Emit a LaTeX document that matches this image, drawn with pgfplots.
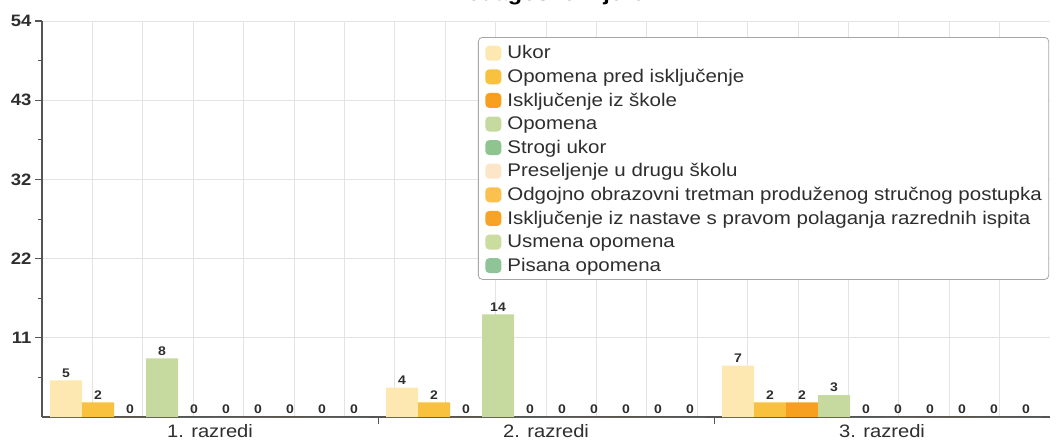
\documentclass[border=0pt]{standalone}
\usepackage{fontspec}
\setmainfont[FakeStretch=1.12]{Liberation Sans}
\usepackage{pgfplots}
\pgfplotsset{compat=1.18}
\definecolor{c1}{HTML}{FDE8B1}
\definecolor{c2}{HTML}{F8C23F}
\definecolor{c3}{HTML}{F7A020}
\definecolor{c4}{HTML}{C6D99E}
\definecolor{c5}{HTML}{8FC390}
\definecolor{c6}{HTML}{FDE5C8}
\definecolor{c7}{HTML}{FBC04E}
\definecolor{c8}{HTML}{F7A426}
\definecolor{c9}{HTML}{CBDC9F}
\definecolor{c10}{HTML}{8EC497}
\definecolor{axisgray}{HTML}{555555}
\definecolor{txt}{HTML}{2E2E2E}
\pgfplotsset{
  mybar/.style={draw=none, fill=#1,
    legend image code/.code={\fill[fill=#1, draw=none] (0pt,-8.5pt) rectangle (16pt,6.5pt); \path (0pt,0pt) -- (22pt,0pt);}},
}
\begin{document}
\begin{tikzpicture}
\begin{axis}[
  scale only axis, width=1008pt, height=396pt,
  xmin=-0.5, xmax=2.5, ymin=0, ymax=54,
  ybar=0pt, bar width=0.0952,
  axis x line*=bottom, axis y line*=left,
  axis line style={draw=axisgray, line width=1.6pt},
  ytick={10.8,21.6,32.4,43.2,54}, yticklabels={11,22,32,43,54},
  minor ytick={5.4,16.2,27,37.8,48.6},
  ymajorgrids,
  xtick={0.5,1.5}, xticklabels={},
  extra x ticks={0,1,2}, extra x tick labels={1. razredi,2. razredi,3. razredi},
  extra x tick style={major tick length=0pt, grid=none},
  minor xtick={-0.35,-0.2,-0.05,0.1,0.25,0.4,0.55,0.7,0.85,1.0,1.15,1.3,1.45,1.6,1.75,1.9,2.05,2.2,2.35},
  xminorgrids,
  minor x tick style={draw=none},
  tick align=outside,
  major tick length=7pt, minor tick length=4pt,
  tick style={draw=axisgray, line width=1pt},
  grid style={draw=black!11, line width=0.8pt},
  minor grid style={draw=black!11, line width=0.8pt},
  yticklabel style={font=\bfseries\fontsize{16.5}{16.5}\selectfont, text=txt},
  xticklabel style={font=\fontsize{18}{18}\selectfont, text=txt, yshift=-4pt},
  title={Pedagoške mjere},
  title style={font=\bfseries\fontsize{21}{21}\selectfont, anchor=base, at={(0.5,1)}, yshift=15pt, xshift=2.5pt},
  /pgf/number format/assume math mode=true,
  nodes near coords,
  every node near coord/.append style={font=\bfseries\fontsize{12.5}{12.5}\selectfont, text=txt, inner sep=3pt},
  legend style={at={(0.4325,0.9596)}, anchor=north west, draw=black!35, line width=0.8pt,
    rounded corners=4pt, fill=white, font=\fontsize{18.3}{18.3}\selectfont, text=txt,
    inner xsep=7pt, inner ysep=3pt, row sep=0pt,
    nodes={inner xsep=0pt, inner ysep=0pt, text height=18.5pt, text depth=5.1pt}},
  legend cell align=left,
]
\addplot[mybar=c1] coordinates {(0,5) (1,4) (2,7)};
\addlegendentry{Ukor}
\addplot[mybar=c2] coordinates {(0,2) (1,2) (2,2)};
\addlegendentry{Opomena pred isključenje}
\addplot[mybar=c3] coordinates {(0,0) (1,0) (2,2)};
\addlegendentry{Isključenje iz škole}
\addplot[mybar=c4] coordinates {(0,8) (1,14) (2,3)};
\addlegendentry{Opomena}
\addplot[mybar=c5] coordinates {(0,0) (1,0) (2,0)};
\addlegendentry{Strogi ukor}
\addplot[mybar=c6] coordinates {(0,0) (1,0) (2,0)};
\addlegendentry{Preseljenje u drugu školu}
\addplot[mybar=c7] coordinates {(0,0) (1,0) (2,0)};
\addlegendentry{Odgojno obrazovni tretman produženog stručnog postupka}
\addplot[mybar=c8] coordinates {(0,0) (1,0) (2,0)};
\addlegendentry{Isključenje iz nastave s pravom polaganja razrednih ispita}
\addplot[mybar=c9] coordinates {(0,0) (1,0) (2,0)};
\addlegendentry{Usmena opomena}
\addplot[mybar=c10] coordinates {(0,0) (1,0) (2,0)};
\addlegendentry{Pisana opomena}
\coordinate (bl) at (rel axis cs:0,0);
\coordinate (tr) at (rel axis cs:1,1);
\end{axis}
\pgfresetboundingbox
\path[use as bounding box] ([shift={(-42pt,-27pt)}]bl) rectangle ([shift={(8pt,21pt)}]tr);
\end{tikzpicture}
\end{document}
